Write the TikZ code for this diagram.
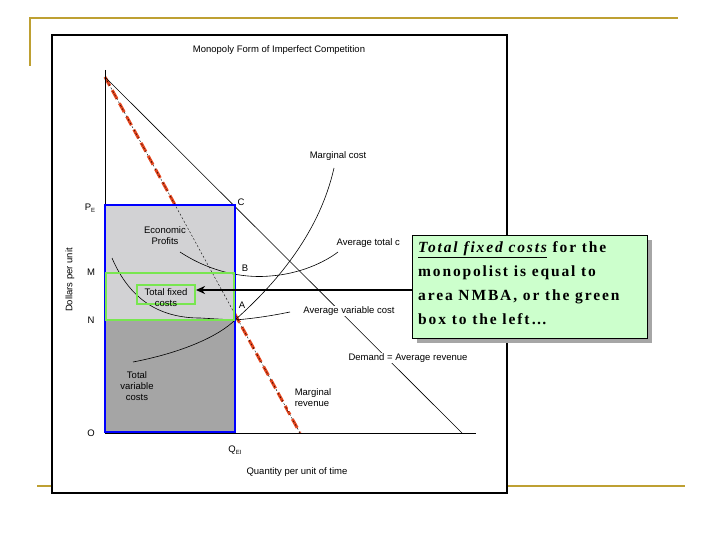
\documentclass[tikz,border=0pt]{standalone}
\usepackage{fontspec}
\setmainfont{Liberation Sans}
\newfontfamily\serifb[LetterSpace=12]{Liberation Serif}
\usetikzlibrary{arrows.meta}
\definecolor{gold}{RGB}{190,160,50}
\definecolor{boxgreen}{RGB}{204,255,204}
\definecolor{lgray}{RGB}{210,210,212}
\definecolor{dgray}{RGB}{165,165,165}
\definecolor{redd}{RGB}{230,70,30}
\definecolor{lgreen}{RGB}{120,230,80}
\begin{document}
\begin{tikzpicture}[x=1pt,y=-1pt,
  lab/.style={font=\fontsize{9.5}{11}\selectfont,inner sep=1pt},
  curve/.style={black,line width=0.6pt}]
\useasboundingbox (0,0) rectangle (720,540);
% gold decoration
\draw[gold,line width=2.5pt] (30,66) -- (30,18) -- (678,18);
\draw[gold,line width=2.5pt] (37,486) -- (685,486);
% frame
\draw[fill=white,line width=1.2pt] (52,35) rectangle (507,493);
\node[lab] (title) at (279,50) {Monopoly Form of Imperfect Competition};
% MR red (under the areas)
\coordinate (D0) at (105,77);
\coordinate (MR1) at (300,433);
\draw[redd,line width=3pt,dash pattern=on 10pt off 5pt] (D0) -- (MR1);
% areas
\fill[lgray] (105,205) rectangle (235,320);
\fill[dgray] (105,320) rectangle (235,432);
% axes
\coordinate (top) at (105,70);
\coordinate (O) at (105,433);
\coordinate (xend) at (476,433);
\draw[line width=0.7pt] (top) -- (O) -- (xend);
% demand
\coordinate (D1) at (462,433);
\draw[curve] (D0) -- (D1);
\draw[black,line width=0.4pt,dash pattern=on 2pt off 2pt] (D0) -- (MR1);
% MC
\coordinate (A) at (235,320);
\draw[curve] (133,362) .. controls (185,352) and (220,335) .. (A) .. controls (280,280) and (320,230) .. (334,168);
% ATC
\draw[curve] (180,252) .. controls (215,275) and (250,278) .. (270,276) .. controls (300,274) and (325,262) .. (338,252);
% AVC
\draw[curve] (112,258) .. controls (130,300) and (160,318) .. (200,318) -- (A) .. controls (260,318) and (280,314) .. (290,312);
% rects
\draw[blue,line width=2.5pt] (105,205) rectangle (235,432);
\draw[lgreen,line width=2.2pt] (106,273) rectangle (234,320);
\draw[lgreen,line width=2pt] (137,285) rectangle (195,304);
% labels
\node[lab] (tfc) at (166,299) {\begin{tabular}{c}Total fixed\\costs\end{tabular}};
\node[lab] (ep) at (165,237) {\begin{tabular}{c}Economic\\Profits\end{tabular}};
\node[lab] (tvc) at (137,387) {\begin{tabular}{c}Total\\variable\\costs\end{tabular}};
\node[lab] (mc) at (338,156) {Marginal cost};
\node[lab,fill=white,inner sep=0.5pt] (avc) at (349,311) {Average variable cost};
\node[lab,fill=white,inner sep=0.5pt] (dar) at (408,358) {Demand = Average revenue};
\node[lab,fill=white,inner sep=0.5pt,anchor=west] (atc) at (336,243) {Average total c};
\node[lab,fill=white,inner sep=0.5pt] (mr) at (313,399) {\begin{tabular}{l}Marginal\\revenue\end{tabular}};
\node[lab] at (241,202) {C};
\node[lab] at (245,268) {B};
\node[lab] at (242,305) {A};
\node[lab] at (90,208) {P\raisebox{-2pt}{\fontsize{6}{6}\selectfont E}};
\node[lab] at (91,272) {M};
\node[lab] at (91,320) {N};
\node[lab] at (91,433) {O};
\node[lab] at (235,450) {Q\raisebox{-2pt}{\fontsize{6}{6}\selectfont EI}};
\node[lab,rotate=90] at (70,280) {Dollars per unit};
\node[lab] at (297,472) {Quantity per unit of time};
% text box
\fill[gray!70] (417,240) rectangle (652,343);
\node[draw,line width=1.2pt,fill=boxgreen,minimum width=235pt,minimum height=103pt,anchor=north west,inner sep=0pt] (box) at (412,235) {};
\node[anchor=north west,align=left,font=\serifb\bfseries\fontsize{15.5}{24}\selectfont,inner sep=0pt] at (418,241)
 {\underline{\itshape Total fixed costs} for the\\monopolist is equal to\\area NMBA, or the green\\box to the left\ldots};
% arrow
\coordinate (tip) at (196,290);
\draw[line width=2.5pt,-{Stealth[length=9pt,width=8pt]}] (box.west |- tip) -- (tip);
\end{tikzpicture}
\end{document}
